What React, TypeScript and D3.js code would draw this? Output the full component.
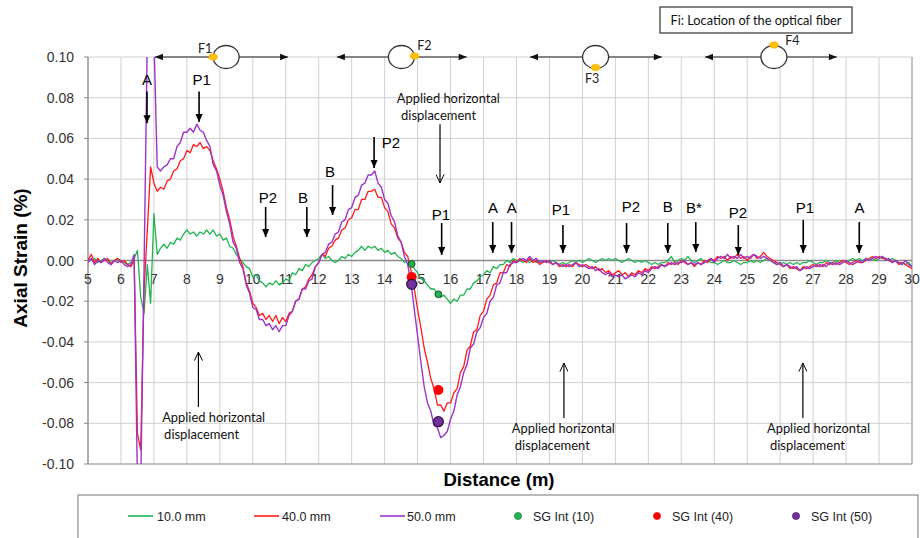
import React from 'react';
import * as d3 from 'd3';

// ---------- DATA ----------
// Distance sampling: 5.0 m to 30.0 m every 0.1 m
const DIST_START = 5;
const DIST_STEP = 0.1;

// Axial strain in units of 0.001 % (one row per metre: X.0 ... X.9)
const strain10mm = [
  1, 0, 1, -1, 0, 1, 0, -1, 0, 1, // 5
  0, -1, -2, -1, 1, 5, -18, -26, -2, -21, // 6
  23, 3, 6, 8, 6, 9, 8, 11, 10, 13, // 7
  15, 13, 14, 12, 14, 13, 15, 13, 15, 12, // 8
  13, 10, 11, 7, 6, 3, 1, -1, -3, -4, // 9
  -8, -7, -10, -11, -13, -11, -12, -10, -12, -11, // 10
  -9, -10, -6, -7, -4, -5, -2, -3, -1, 0, // 11
  1, 3, 1, 2, 0, -1, 0, 2, 1, 3, // 12
  2, 4, 5, 7, 5, 7, 6, 7, 5, 6, // 13
  4, 5, 3, 4, 2, 1, -1, 0, -2, -4, // 14
  -6, -9, -10, -12, -14, -14, -16, -18, -17, -19, // 15
  -21, -19, -20, -17, -17, -14, -14, -11, -10, -8, // 16
  -7, -5, -6, -3, -4, -2, -2, 0, -1, 1, // 17
  0, 0, -1, 0, -1, 0, -1, 0, -1, 0, // 18
  -1, 0, -1, -2, -1, -2, -1, 0, -1, 0, // 19
  -1, 0, 1, 0, -1, 0, 1, 0, 1, 0, // 20
  1, 0, -1, 0, 1, 0, -1, 0, -1, 0, // 21
  -1, -2, -1, -2, -1, -1, 0, 2, -1, 0, // 22
  1, 0, 2, 0, -1, 0, 1, -1, 0, -1, // 23
  -1, -2, -1, 0, -1, -1, 0, -1, -2, -1, // 24
  -1, 0, -1, 0, -1, 0, 1, 0, -1, -1, // 25
  -2, -1, -2, -1, -2, -1, -2, -1, -1, 0, // 26
  -1, -2, -1, -1, 0, -1, -1, 0, -1, 0, // 27
  -1, 0, 1, 0, 1, 0, 1, 0, 1, 0, // 28
  1, 2, 1, 0, 1, 0, -1, -1, -2, -1, // 29
  -3, // 30
];

const strain40mm = [
  0, 3, -1, 1, -1, 0, 1, -2, 0, 1, // 5
  -1, 0, -2, -3, 0, -85, -93, -15, 15, 46, // 6
  38, 34, 36, 35, 39, 40, 44, 45, 49, 50, // 7
  54, 53, 57, 56, 58, 55, 56, 54, 49, 45, // 8
  40, 34, 26, 20, 12, 7, 1, -3, -11, -15, // 9
  -21, -23, -27, -26, -29, -27, -30, -27, -31, -28, // 10
  -30, -26, -25, -20, -19, -14, -13, -9, -7, -3, // 11
  -1, 3, 2, 6, 7, 10, 11, 15, 16, 20, // 12
  21, 25, 25, 30, 30, 34, 34, 35, 31, 31, // 13
  26, 24, 18, 16, 11, 9, 4, 2, -5, -14, // 14
  -24, -33, -43, -50, -58, -63, -71, -71, -74, -70, // 15
  -70, -65, -63, -55, -52, -44, -42, -35, -34, -27, // 16
  -25, -19, -17, -12, -11, -6, -6, -2, -3, 0, // 17
  -1, 1, 0, -1, 1, -1, 0, -2, -1, 0, // 18
  -1, -2, -1, -3, -2, -3, -2, -3, -1, -2, // 19
  -3, -2, -3, -4, -3, -5, -4, -6, -5, -7, // 20
  -6, -5, -7, -6, -8, -6, -7, -5, -6, -4, // 21
  -5, -3, -4, -3, -2, -3, -1, -2, -1, -2, // 22
  0, -1, -2, -1, -3, -1, -2, 0, -1, 1, // 23
  0, 2, 1, 2, 0, 2, 1, 3, 1, 2, // 24
  0, 2, 3, 1, 2, 4, 2, 1, 0, -1, // 25
  -2, -3, -2, -4, -3, -4, -5, -3, -4, -3, // 26
  -2, -3, -2, -3, -1, -2, -1, -2, -1, 0, // 27
  -1, -2, -1, 0, -1, -1, 0, 1, 2, 1, // 28
  2, 1, 1, 0, -1, 0, -2, -1, -2, -3, // 29
  -4, // 30
];

const strain50mm = [
  -1, 1, -2, 0, -1, 1, -1, -2, 0, -1, // 5
  0, -2, -3, -2, 3, -110, -110, -5, 110, 110, // 6
  110, 46, 44, 46, 47, 50, 50, 56, 58, 63, // 7
  63, 65, 63, 67, 64, 63, 59, 56, 47, 44, // 8
  37, 32, 24, 18, 9, 6, -1, -4, -12, -16, // 9
  -23, -24, -29, -29, -32, -31, -34, -32, -35, -32, // 10
  -32, -27, -25, -20, -19, -14, -14, -10, -9, -3, // 11
  -1, 3, 4, 8, 9, 13, 14, 19, 20, 25, // 12
  26, 31, 32, 37, 38, 42, 42, 44, 38, 36, // 13
  30, 28, 22, 19, 12, 9, 2, -2, -11, -24, // 14
  -37, -50, -62, -70, -74, -81, -82, -87, -86, -84, // 15
  -78, -74, -66, -62, -55, -51, -43, -41, -35, -33, // 16
  -28, -26, -20, -18, -12, -11, -6, -6, -2, -1, // 17
  -1, 0, 1, 0, 2, 0, 1, -1, 0, -1, // 18
  0, -2, -1, -2, -3, -2, -3, -2, -1, -3, // 19
  -2, -3, -4, -3, -5, -4, -6, -7, -6, -8, // 20
  -7, -8, -7, -9, -8, -7, -8, -6, -7, -5, // 21
  -6, -4, -3, -4, -2, -3, -2, -1, -2, -1, // 22
  -1, 0, -2, -1, -2, -1, -2, -1, 0, 1, // 23
  -1, 1, 2, 1, 3, 1, 2, 1, 3, 1, // 24
  2, 1, 3, 2, 1, 2, 1, 0, -1, -2, // 25
  -1, -3, -2, -3, -4, -3, -5, -4, -3, -4, // 26
  -3, -2, -3, -2, -3, -1, -2, -1, -2, -1, // 27
  0, -1, -2, -1, 0, -1, 1, 0, 1, 2, // 28
  1, 2, 0, 1, -1, 0, -1, -2, 0, -2, // 29
  -3, // 30
];

// Strain gauge interpolations (distance m, strain 0.001 %)
const sgDistance = [14.82, 15.63];
const sgInt10 = [-1.7, -16.6];
const sgInt40 = [-8.1, -63.6];
const sgInt50 = [-11.7, -79.2];

const xTicks = [5, 6, 7, 8, 9, 10, 11, 12, 13, 14, 15, 16, 17, 18, 19, 20, 21, 22, 23, 24, 25, 26, 27, 28, 29, 30];
const yTicks = [-100, -80, -60, -40, -20, 0, 20, 40, 60, 80, 100];

// Point labels: text, label distance, arrow distance, label baseline, arrow start, arrow tip (strain 0.001 %)
const pointLabels = [
  { t: 'A', ld: 6.79, ad: 6.79, ly: 86, y0: 83, y1: 67.5 },
  { t: 'P1', ld: 8.45, ad: 8.37, ly: 86, y0: 83, y1: 68 },
  { t: 'P2', ld: 10.46, ad: 10.39, ly: 28.3, y0: 26.3, y1: 11.5 },
  { t: 'B', ld: 11.52, ad: 11.64, ly: 28.3, y0: 26.3, y1: 11.5 },
  { t: 'B', ld: 12.34, ad: 12.42, ly: 41, y0: 37.1, y1: 22.4 },
  { t: 'P2', ld: 14.19, ad: 13.68, ly: 55.3, y0: 60.7, y1: 45.5 },
  { t: 'P1', ld: 15.71, ad: 15.73, ly: 19.9, y0: 18.4, y1: 2.7 },
  { t: 'A', ld: 17.29, ad: 17.28, ly: 23.3, y0: 18.9, y1: 3.7 },
  { t: 'A', ld: 17.86, ad: 17.85, ly: 23.3, y0: 18.9, y1: 3.7 },
  { t: 'P1', ld: 19.35, ad: 19.41, ly: 22.4, y0: 17.4, y1: 3.7 },
  { t: 'P2', ld: 21.47, ad: 21.34, ly: 23.8, y0: 18.4, y1: 3.7 },
  { t: 'B', ld: 22.59, ad: 22.59, ly: 23.8, y0: 18.4, y1: 3.7 },
  { t: 'B*', ld: 23.38, ad: 23.44, ly: 23.3, y0: 18.9, y1: 4.2 },
  { t: 'P2', ld: 24.72, ad: 24.73, ly: 20.9, y0: 17.4, y1: 2.7 },
  { t: 'P1', ld: 26.75, ad: 26.7, ly: 23.3, y0: 19.9, y1: 3.7 },
  { t: 'A', ld: 28.41, ad: 28.4, ly: 23.3, y0: 18.9, y1: 3.7 },
];

// "Applied horizontal displacement" notes: arrow distance, arrow from/to, text lines
const displacementNotes = [
  { ad: 15.68, y0: 67, y1: 38.1, d1: 14.37, b1: 77.4, d2: 14.5, b2: 69 },
  { ad: 8.35, y0: -72, y1: -45, d1: 7.25, b1: -79.4, d2: 7.31, b2: -87.7 },
  { ad: 19.44, y0: -77.4, y1: -50.4, d1: 17.86, b1: -84.8, d2: 17.95, b2: -93.1 },
  { ad: 26.69, y0: -77.4, y1: -50.4, d1: 25.6, b1: -84.8, d2: 25.69, b2: -93.1 },
];

// Optical fibre locations: name, centre, arrow left/right ends (m), fibre position on the pipe
const fibers = [
  { name: 'F1', c: 9.19, l: 7.03, r: 11.07, pos: 'left' },
  { name: 'F2', c: 14.51, l: 12.55, r: 16.49, pos: 'right' },
  { name: 'F3', c: 20.4, l: 18.41, r: 22.41, pos: 'bottom' },
  { name: 'F4', c: 25.81, l: 23.72, r: 27.72, pos: 'top' },
];

const seriesNames = ['10.0 mm', '40.0 mm', '50.0 mm'];
const sgNames = ['SG Int (10)', 'SG Int (40)', 'SG Int (50)'];

// ---------- STYLE ----------
const W = 920;
const H = 538;
const M = { left: 88, right: 912, top: 57, bottom: 464 };
const C10 = '#1fb451';
const C40 = '#ff1a1a';
const C50 = '#9b35c8';
const ARIAL = '"Liberation Sans", Arial, sans-serif';
const CAL = 'Lato, "Open Sans", sans-serif';

export default function App() {
  const x = d3.scaleLinear().domain([5, 30]).range([M.left, M.right]);
  const y = d3.scaleLinear().domain([-100, 100]).range([M.bottom, M.top]);
  const dist = strain10mm.map((_, i) => DIST_START + i * DIST_STEP);

  const line = d3
    .line<number>()
    .x((_, i) => x(dist[i]))
    .y((v) => y(v));

  const fmtY = (v: number) => (v / 1000).toFixed(2);

  const rx = 13;
  const ry = 11.5;
  const fiberDot: Record<string, [number, number]> = {
    left: [-rx, 0],
    right: [rx, -1],
    bottom: [0, ry - 1],
    top: [0, -ry - 0.5],
  };
  const fiberLabel: Record<string, [number, number]> = {
    left: [-21, -4],
    right: [23, -7],
    bottom: [-3.5, 26],
    top: [18.5, -12],
  };

  const legendY = 516;
  const legendLines = [
    { x0: 128, tx: 157, c: C10 },
    { x0: 254, tx: 282, c: C40 },
    { x0: 380, tx: 407, c: C50 },
  ];
  const legendDots = [
    { cx: 518, tx: 533, c: '#1fb451', s: '#1b6b33' },
    { cx: 657, tx: 672, c: '#ff0000', s: '#ff0000' },
    { cx: 796, tx: 811, c: '#7030a0', s: '#3a1a55' },
  ];

  return (
    <svg
      width={W}
      height={H}
      viewBox={`0 0 ${W} ${H}`}
      style={{ position: 'absolute', left: 0, top: 0, background: '#fff' }}
    >
      <defs>
        <clipPath id="plot">
          <rect x={M.left} y={M.top} width={M.right - M.left} height={M.bottom - M.top} />
        </clipPath>
        <marker id="tri" viewBox="0 0 10 10" refX="10" refY="5" markerWidth="8" markerHeight="8" markerUnits="userSpaceOnUse" orient="auto">
          <path d="M0,0.5 L10,5 L0,9.5 Z" fill="#000" />
        </marker>
        <marker id="triF" viewBox="0 0 10 10" refX="10" refY="5" markerWidth="9" markerHeight="8" markerUnits="userSpaceOnUse" orient="auto">
          <path d="M0,1 L10,5 L0,9 Z" fill="#111" />
        </marker>
        <marker id="open" viewBox="0 0 10 10" refX="9.5" refY="5" markerWidth="9" markerHeight="9" markerUnits="userSpaceOnUse" orient="auto">
          <path d="M0,0.5 L9.5,5 L0,9.5" fill="none" stroke="#000" strokeWidth="1.1" />
        </marker>
      </defs>
      <rect x={0} y={0} width={W} height={H} fill="#fff" />

      {/* grid */}
      {xTicks.map((t) => (
        <line key={'gx' + t} x1={x(t)} x2={x(t)} y1={M.top} y2={M.bottom} stroke="#d0d0d0" strokeWidth={1} />
      ))}
      {yTicks.map((t) => (
        <line key={'gy' + t} x1={M.left} x2={M.right} y1={y(t)} y2={y(t)} stroke="#d0d0d0" strokeWidth={1} />
      ))}
      {/* frame */}
      <line x1={M.left} x2={M.left} y1={M.top} y2={M.bottom} stroke="#888" strokeWidth={1.2} />
      <line x1={M.left} x2={M.right} y1={M.bottom} y2={M.bottom} stroke="#999" strokeWidth={1.2} />
      <line x1={M.right} x2={M.right} y1={M.top} y2={M.bottom} stroke="#aaa" strokeWidth={1.2} />
      {yTicks.map((t) => (
        <line key={'ty' + t} x1={M.left - 4} x2={M.left} y1={y(t)} y2={y(t)} stroke="#888" strokeWidth={1} />
      ))}
      <line x1={M.left} x2={M.right} y1={y(0)} y2={y(0)} stroke="#8a8a8a" strokeWidth={1.6} />

      {/* y tick labels */}
      {yTicks.map((t) => (
        <text key={'ly' + t} x={74} y={y(t) + 5} textAnchor="end" fontFamily={ARIAL} fontSize={14} fill="#333">
          {fmtY(t)}
        </text>
      ))}
      {/* x tick labels */}
      {xTicks.map((t) => (
        <text key={'lx' + t} x={x(t)} y={y(0) + 23.5} textAnchor="middle" fontFamily={ARIAL} fontSize={14} fill="#333">
          {t}
        </text>
      ))}

      {/* series */}
      <g clipPath="url(#plot)" fill="none" strokeWidth={1.3} strokeLinejoin="round">
        <path d={line(strain10mm) || ''} stroke={C10} />
        <path d={line(strain40mm) || ''} stroke={C40} />
        <path d={line(strain50mm) || ''} stroke={C50} strokeWidth={1.4} />
      </g>

      {/* strain gauges */}
      {sgDistance.map((d, i) => (
        <circle key={'s40' + i} cx={x(d)} cy={y(sgInt40[i])} r={5} fill="#ff0000" />
      ))}
      {sgDistance.map((d, i) => (
        <circle key={'s50' + i} cx={x(d)} cy={y(sgInt50[i])} r={5} fill="#7030a0" stroke="#2d1542" strokeWidth={1.2} />
      ))}
      {sgDistance.map((d, i) => (
        <circle key={'s10' + i} cx={x(d)} cy={y(sgInt10[i])} r={3.4} fill="#1fb451" stroke="#1b4d2a" strokeWidth={1} />
      ))}

      {/* point labels */}
      {pointLabels.map((p, i) => (
        <g key={'pl' + i}>
          <text x={x(p.ld)} y={y(p.ly)} textAnchor="middle" fontFamily={ARIAL} fontSize={15} fill="#000">
            {p.t}
          </text>
          <line x1={x(p.ad)} x2={x(p.ad)} y1={y(p.y0)} y2={y(p.y1)} stroke="#000" strokeWidth={1.6} markerEnd="url(#tri)" />
        </g>
      ))}

      {/* displacement notes */}
      {displacementNotes.map((n, i) => (
        <g key={'dn' + i}>
          <line x1={x(n.ad)} x2={x(n.ad)} y1={y(n.y0)} y2={y(n.y1)} stroke="#000" strokeWidth={1.2} markerEnd="url(#open)" />
          <text x={x(n.d1)} y={y(n.b1)} fontFamily={CAL} fontSize={12.5} fill="#111" textLength={103} lengthAdjust="spacingAndGlyphs">
            Applied horizontal
          </text>
          <text x={x(n.d2)} y={y(n.b2)} fontFamily={CAL} fontSize={12.5} fill="#111" textLength={75} lengthAdjust="spacingAndGlyphs">
            displacement
          </text>
        </g>
      ))}

      {/* fibres */}
      {fibers.map((f) => {
        const cx = x(f.c);
        const cy = y(100);
        const [dx, dy] = fiberDot[f.pos];
        const [lx, ly] = fiberLabel[f.pos];
        return (
          <g key={f.name}>
            <line x1={cx - rx} x2={x(f.l)} y1={cy} y2={cy} stroke="#222" strokeWidth={1.2} markerEnd="url(#triF)" />
            <line x1={cx + rx} x2={x(f.r)} y1={cy} y2={cy} stroke="#222" strokeWidth={1.2} markerEnd="url(#triF)" />
            <ellipse cx={cx} cy={cy} rx={rx} ry={ry} fill="#fff" stroke="#333" strokeWidth={1.3} />
            <ellipse cx={cx + dx} cy={cy + dy} rx={4.2} ry={3.3} fill="#ffc000" stroke="#f5a800" strokeWidth={0.5} />
            <text x={cx + lx} y={cy + ly} textAnchor="middle" fontFamily={CAL} fontSize={12.5} fill="#222">
              {f.name}
            </text>
          </g>
        );
      })}
      <rect x={660} y={7} width={192} height={26} fill="#fff" stroke="#333" strokeWidth={1.2} />
      <text x={756} y={25} textAnchor="middle" fontFamily={CAL} fontSize={12.5} fill="#111" textLength={171} lengthAdjust="spacingAndGlyphs">
        Fi: Location of the optical fiber
      </text>

      {/* axis titles */}
      <text transform={`translate(27,258) rotate(-90)`} textAnchor="middle" fontFamily={ARIAL} fontWeight="bold" fontSize={19} fill="#000">
        Axial Strain (%)
      </text>
      <text x={499} y={486} textAnchor="middle" fontFamily={ARIAL} fontWeight="bold" fontSize={18.5} fill="#000">
        Distance (m)
      </text>

      {/* legend */}
      <rect x={78} y={495} width={840} height={50} fill="#fff" stroke="#8c8c8c" strokeWidth={1.2} />
      {legendLines.map((l, i) => (
        <g key={'ll' + i}>
          <line x1={l.x0} x2={l.x0 + 25} y1={legendY} y2={legendY} stroke={l.c} strokeWidth={1.6} />
          <text x={l.tx} y={legendY + 4.5} fontFamily={ARIAL} fontSize={12.5} fill="#222">
            {seriesNames[i]}
          </text>
        </g>
      ))}
      {legendDots.map((l, i) => (
        <g key={'ld' + i}>
          <circle cx={l.cx} cy={legendY} r={3.6} fill={l.c} stroke={l.s} strokeWidth={0.6} />
          <text x={l.tx} y={legendY + 4.5} fontFamily={ARIAL} fontSize={12.5} fill="#222">
            {sgNames[i]}
          </text>
        </g>
      ))}
    </svg>
  );
}
